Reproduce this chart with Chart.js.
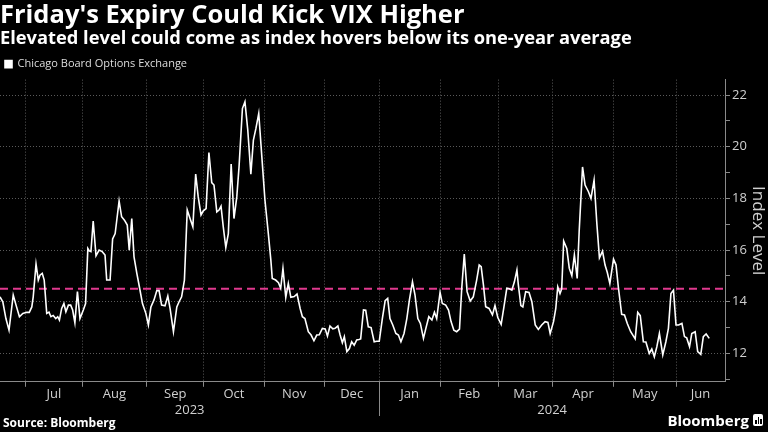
<!DOCTYPE html>
<html>
<head>
<meta charset="utf-8">
<script src="https://cdn.jsdelivr.net/npm/chart.js@4.4.1/dist/chart.umd.min.js"></script>
<style>
  html, body { margin: 0; padding: 0; background: #000; }
  #wrap { position: relative; width: 768px; height: 432px; overflow: hidden; }
  #chart { position: absolute; left: 0; top: 0; }
  .source { position: absolute; left: 3px; top: 414px; color: #fff; font: bold 12px 'Open Sans', sans-serif; }
  .brand { position: absolute; right: 5px; top: 410px; color: #fff; font: bold 15px 'Open Sans', sans-serif; display: flex; align-items: center; gap: 4px; }
  .logo { width: 10px; height: 12px; background: #fff; border-radius: 2px; position: relative; }
  .logo i { position: absolute; bottom: 2px; width: 1.5px; background: #000; }
</style>
</head>
<body>
<div id="wrap">
  <canvas id="chart" width="768" height="432"></canvas>
  <div class="source">Source: Bloomberg</div>
  <div class="brand">Bloomberg<span class="logo"><i style="left:2px;height:4px"></i><i style="left:4.5px;height:7px"></i><i style="left:7px;height:5px"></i></span></div>
</div>
<script>
// VIX close, by trading-day position (0 = mid-June 2023)
const tradingDay = [0.0,1.0,2.1,3.2,4.7,5.7,6.9,8.1,9.5,10.4,11.3,11.8,12.8,13.6,14.2,15.0,15.7,16.6,17.4,18.1,18.9,19.8,20.5,21.1,21.9,22.7,23.4,24.3,25.1,25.8,26.6,27.5,28.4,29.6,30.4,31.2,31.7,32.3,33.1,34.1,35.2,36.3,37.3,37.9,39.1,40.0,40.9,42.3,43.2,44.2,45.2,45.9,46.8,47.6,48.6,49.5,50.6,51.8,52.7,53.6,54.7,55.7,56.5,57.4,58.6,59.6,60.4,61.6,62.8,63.6,64.5,65.5,66.5,67.5,68.5,69.5,70.4,71.4,72.2,73.2,74.2,75.2,76.0,77.0,77.8,78.5,79.3,80.2,81.1,82.1,83.1,84.1,84.9,86.1,87.0,88.0,89.1,90.0,90.9,91.9,93.0,94.1,95.3,96.2,96.7,97.9,98.9,99.7,100.5,101.5,102.4,103.3,104.5,105.5,106.6,107.4,108.3,109.5,110.5,111.5,112.5,113.4,114.5,115.5,116.3,117.2,118.2,119.0,120.0,120.8,121.6,122.3,123.2,124.1,124.9,125.8,126.7,127.5,128.1,129.1,129.9,130.8,131.8,132.9,133.8,134.7,135.8,136.8,137.7,138.5,139.5,140.6,141.5,142.4,143.5,144.5,145.4,146.5,147.4,148.4,149.3,150.4,151.3,152.3,153.4,154.3,155.1,156.3,157.1,158.3,159.3,160.2,161.2,162.2,163.2,164.0,164.9,165.9,167.0,168.1,169.3,170.2,170.9,171.7,172.5,173.7,174.9,175.8,176.8,178.0,179.0,180.0,180.9,181.8,182.7,183.6,184.1,185.0,185.7,186.7,187.9,188.9,190.1,191.2,192.4,193.6,194.6,195.4,196.6,197.4,198.1,198.9,199.5,200.2,201.3,202.2,203.1,204.0,205.0,205.7,206.9,207.8,209.0,209.9,211.0,212.0,212.9,214.0,214.9,215.7,216.6,217.9,218.8,219.6,220.8,221.8,222.8,224.0,225.6,226.5,227.4,228.5,229.4,230.6,231.5,232.4,233.3,234.2,235.4,236.5,237.4,238.3,239.2,240.1,241.0,242.2,243.1,243.9,244.9,245.7,246.9,247.8,248.9,249.8,250.8,251.9];
const vix = [14.19,14.0,13.35,12.9,14.26,13.87,13.42,13.55,13.59,13.59,13.8,14.19,15.46,14.84,15.03,15.1,14.84,13.55,13.6,13.42,13.47,13.35,13.42,13.29,13.74,13.93,13.61,13.87,13.87,13.68,13.19,14.39,13.35,13.68,13.93,16.06,15.97,15.94,17.12,15.78,16.0,15.94,15.81,14.84,14.84,16.43,16.64,17.9,17.29,17.16,16.97,16.0,17.22,15.74,15.1,14.58,13.93,13.55,13.1,13.8,14.07,14.43,14.43,13.87,13.84,14.22,13.74,12.84,13.8,14.0,14.19,14.84,17.55,17.22,16.9,18.94,18.06,17.36,17.52,17.61,19.78,18.61,18.52,17.48,17.55,17.7,16.9,16.1,16.64,19.33,17.22,18.06,19.22,21.48,21.74,20.65,18.94,20.26,20.71,21.29,19.61,17.94,16.64,15.61,14.9,14.84,14.74,14.52,15.29,14.17,14.71,14.17,14.2,14.3,13.74,13.42,13.35,12.84,12.71,12.49,12.71,12.72,12.97,12.95,12.67,13.06,12.95,12.97,13.06,12.71,12.41,12.65,12.07,12.19,12.45,12.32,12.52,12.54,12.56,13.68,13.67,13.03,13.0,12.45,12.47,12.47,13.35,14.04,14.13,13.35,13.1,12.77,12.71,12.45,12.77,13.35,14.06,14.77,14.26,13.35,13.16,12.58,12.99,13.42,13.29,13.59,13.35,14.36,13.93,13.87,13.68,13.23,12.9,12.84,12.94,14.52,15.85,14.39,14.03,14.19,14.84,15.42,15.36,14.65,13.81,13.74,13.49,13.85,13.39,13.12,13.81,14.52,14.5,14.45,14.77,15.23,14.65,13.85,13.8,14.39,14.36,14.0,13.1,12.93,13.1,13.23,13.2,12.77,13.23,13.74,14.58,14.32,14.5,16.35,16.06,15.29,15.01,15.81,14.9,16.71,19.22,18.52,18.26,18.0,18.71,17.0,15.7,15.96,15.42,15.13,14.71,15.65,15.42,14.58,13.51,13.49,13.16,12.84,12.56,13.59,13.46,12.45,12.44,12.0,12.17,11.87,12.26,12.77,11.94,12.45,12.97,14.32,14.45,13.1,13.1,13.16,12.65,12.6,12.26,12.77,12.84,12.07,11.96,12.65,12.75,12.58];

const oneYearAverage = 14.5;

// month labels and where each month starts, in trading days
const monthLabels = ['Jul', 'Aug', 'Sep', 'Oct', 'Nov', 'Dec', 'Jan', 'Feb', 'Mar', 'Apr', 'May', 'Jun'];
const monthStart = [9.1, 29.2, 52.1, 72.4, 93.8, 115.1, 134.7, 156.3, 177.0, 196.2, 217.9, 240.1];
const yearLabels = ['2023', '2024'];
const yTickValues = [11, 12, 13, 14, 15, 16, 17, 18, 19, 20, 21, 22];

const xMin = 0, xMax = 257.5;
const FONT = "'Open Sans', sans-serif";

const janStart = monthStart[monthLabels.indexOf('Jan')];
const monthMid = monthStart.map((s, i) => (s + (i < monthStart.length - 1 ? monthStart[i + 1] : xMax)) / 2);
const yearMid = [(xMin + janStart) / 2, (janStart + xMax) / 2];

// line separating the two years under the axis
const yearDivider = {
    id: 'yearDivider',
    afterDraw(chart) {
        const { ctx, scales } = chart;
        const x = Math.round(scales.x.getPixelForValue(janStart)) + 0.5;
        ctx.save();
        ctx.strokeStyle = '#8a8a8a';
        ctx.lineWidth = 1;
        ctx.beginPath();
        ctx.moveTo(x, scales.x.top);
        ctx.lineTo(x, scales.xy.bottom - 2);
        ctx.stroke();
        ctx.restore();
    }
};

const ctx = document.getElementById('chart').getContext('2d');
new Chart(ctx, {
    type: 'line',
    data: {
        datasets: [{
            label: 'Chicago Board Options Exchange',
            data: tradingDay.map((d, i) => ({ x: d, y: vix[i] })),
            borderColor: '#ffffff',
            backgroundColor: '#ffffff',
            borderWidth: 1.6,
            pointRadius: 0,
            tension: 0,
            xAxisID: 'x',
            yAxisID: 'y'
        }, {
            label: 'One-year average',
            data: [{ x: xMin, y: oneYearAverage }, { x: xMax, y: oneYearAverage }],
            borderColor: '#e0398e',
            borderWidth: 2,
            borderDash: [8, 5],
            pointRadius: 0,
            xAxisID: 'x',
            yAxisID: 'y'
        }]
    },
    options: {
        responsive: false,
        animation: false,
        devicePixelRatio: 1,
        layout: { padding: { left: 0, right: 0, top: 0, bottom: 14 } },
        plugins: {
            title: {
                display: true,
                text: "Friday's Expiry Could Kick VIX Higher",
                align: 'start',
                color: '#ffffff',
                font: { family: FONT, size: 25.5, weight: 'bold', lineHeight: 1.0 },
                padding: { top: 3, bottom: 0 }
            },
            subtitle: {
                display: true,
                text: 'Elevated level could come as index hovers below its one-year average',
                align: 'start',
                color: '#ffffff',
                font: { family: FONT, size: 18.3, weight: 'bold', lineHeight: 1.1 },
                padding: { top: 0, bottom: 5 }
            },
            legend: {
                display: true,
                position: 'top',
                align: 'start',
                labels: {
                    color: '#dddddd',
                    font: { family: FONT, size: 11 },
                    boxWidth: 7,
                    boxHeight: 7,
                    padding: 5,
                    filter: item => item.datasetIndex === 0
                }
            },
            tooltip: { enabled: false }
        },
        scales: {
            x: {
                type: 'linear',
                position: 'bottom',
                min: xMin,
                max: xMax,
                afterBuildTicks: scale => { scale.ticks = monthStart.map(v => ({ value: v })); },
                ticks: { display: false },
                grid: { color: '#5a5a5a', tickColor: '#8a8a8a', tickLength: 5, drawTicks: true },
                border: { display: true, color: '#8a8a8a', dash: [1, 2] }
            },
            xm: {
                type: 'linear',
                position: 'bottom',
                min: xMin,
                max: xMax,
                afterBuildTicks: scale => { scale.ticks = monthMid.map(v => ({ value: v })); },
                ticks: {
                    color: '#d0d0d0',
                    font: { family: FONT, size: 13 },
                    padding: 0,
                    autoSkip: false,
                    maxRotation: 0,
                    callback: (v, i) => monthLabels[i]
                },
                grid: { display: false, drawTicks: false },
                border: { display: false }
            },
            xy: {
                type: 'linear',
                position: 'bottom',
                min: xMin,
                max: xMax,
                afterBuildTicks: scale => { scale.ticks = yearMid.map(v => ({ value: v })); },
                ticks: {
                    color: '#d0d0d0',
                    font: { family: FONT, size: 13 },
                    padding: 0,
                    autoSkip: false,
                    maxRotation: 0,
                    callback: (v, i) => yearLabels[i]
                },
                grid: { display: false, drawTicks: false },
                border: { display: false }
            },
            y: {
                type: 'linear',
                position: 'right',
                min: 10.9,
                max: 22.6,
                afterBuildTicks: scale => { scale.ticks = yTickValues.map(v => ({ value: v })); },
                afterFit: scale => { scale.width = 43; },
                ticks: {
                    color: '#d0d0d0',
                    font: { family: FONT, size: 13 },
                    padding: 2,
                    callback: v => (v % 2 === 0 ? v : '')
                },
                grid: {
                    color: c => (c.tick && c.tick.value % 2 === 0 ? '#5a5a5a' : 'rgba(0,0,0,0)'),
                    tickColor: '#8a8a8a',
                    tickLength: 5
                },
                border: { display: true, color: '#8a8a8a', dash: [1, 2] },
                title: {
                    display: true,
                    text: 'Index Level',
                    color: '#d0d0d0',
                    font: { family: FONT, size: 17 },
                    padding: { top: 0, bottom: 3 }
                }
            }
        }
    },
    plugins: [yearDivider]
});
</script>
</body>
</html>
